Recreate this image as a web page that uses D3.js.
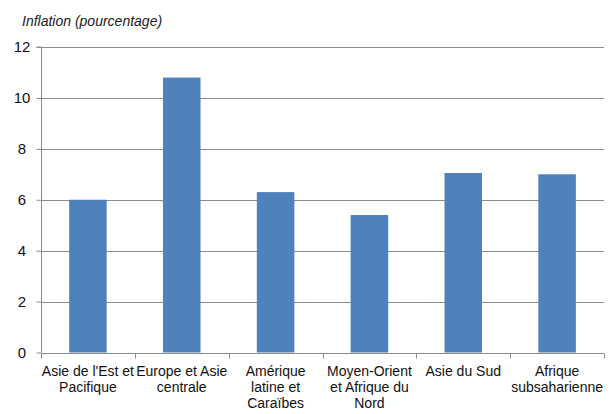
<!DOCTYPE html>
<html>
<head>
<meta charset="utf-8">
<script src="https://cdn.jsdelivr.net/npm/d3@7"></script>
<style>
  html, body { margin: 0; padding: 0; background: #fff; }
  svg { display: block; font-family: "Liberation Sans", Arial, sans-serif; }
</style>
</head>
<body>
<svg id="chart" width="613" height="414"></svg>
<script>
// Regional inflation, percent
const regions = [
  ["Asie de l'Est et", "Pacifique"],
  ["Europe et Asie", "centrale"],
  ["Amérique", "latine et", "Caraïbes"],
  ["Moyen-Orient", "et Afrique du", "Nord"],
  ["Asie du Sud"],
  ["Afrique", "subsaharienne"]
];
const inflation = [6.0, 10.8, 6.3, 5.4, 7.05, 7.0];
const yTicks = [0, 2, 4, 6, 8, 10, 12];
const yTitle = "Inflation (pourcentage)";

const svg = d3.select("#chart");
const margin = { left: 41, right: 9, top: 47, bottom: 61.5 };
const W = 613, H = 414;

const x = d3.scaleBand()
  .domain(d3.range(regions.length))
  .range([margin.left, W - margin.right])
  .paddingInner(0.6)
  .paddingOuter(0.3);

const y = d3.scaleLinear()
  .domain([0, 12])
  .range([H - margin.bottom, margin.top]);

const gridColor = "#8c8c8c";

// horizontal gridlines
svg.append("g")
  .selectAll("line")
  .data(yTicks.filter(d => d > 0))
  .join("line")
  .attr("x1", margin.left).attr("x2", W - margin.right)
  .attr("y1", d => Math.round(y(d)) + 0.5).attr("y2", d => Math.round(y(d)) + 0.5)
  .attr("stroke", gridColor).attr("stroke-width", 1);

// bars
svg.append("g")
  .selectAll("rect")
  .data(inflation)
  .join("rect")
  .attr("x", (d, i) => x(i))
  .attr("width", x.bandwidth())
  .attr("y", d => y(d))
  .attr("height", d => y(0) - y(d))
  .attr("fill", "#4f81bd");

// y axis
const yAxis = svg.append("g")
  .attr("transform", `translate(${margin.left + 0.5},0)`)
  .call(d3.axisLeft(y).tickValues(yTicks).tickSize(5).tickPadding(4).tickFormat(d3.format("d")));
yAxis.select(".domain").attr("stroke", gridColor).attr("d", `M-5,${y(12)}H0V${y(0)}`);
yAxis.selectAll(".tick line").attr("stroke", gridColor);
yAxis.selectAll(".tick text")
  .attr("fill", "#111").attr("font-size", 15)
  .attr("text-anchor", "middle")
  .attr("x", -19.5)
  .attr("font-family", "Liberation Sans, Arial, sans-serif");

// x axis baseline and category boundary ticks
const x0 = Math.round(y(0)) + 0.5;
const bounds = d3.range(regions.length + 1).map(i => margin.left + i * (W - margin.left - margin.right) / regions.length);
svg.append("line")
  .attr("x1", margin.left).attr("x2", W - margin.right)
  .attr("y1", x0).attr("y2", x0)
  .attr("stroke", gridColor);
svg.append("g")
  .selectAll("line")
  .data(bounds)
  .join("line")
  .attr("x1", d => Math.round(d) + 0.5).attr("x2", d => Math.round(d) + 0.5)
  .attr("y1", x0).attr("y2", x0 + 5)
  .attr("stroke", gridColor);

// category labels
svg.append("g")
  .selectAll("text")
  .data(regions)
  .join("text")
  .attr("text-anchor", "middle")
  .attr("font-size", 14)
  .attr("fill", "#111")
  .attr("transform", (d, i) => `translate(${x(i) + x.bandwidth() / 2},${x0 + 22})`)
  .selectAll("tspan")
  .data(d => d)
  .join("tspan")
  .attr("x", 0)
  .attr("y", (d, j) => j * 16)
  .text(d => d);

// axis title
svg.append("text")
  .attr("x", 22).attr("y", 26)
  .attr("font-size", 14)
  .attr("font-style", "italic")
  .attr("fill", "#222")
  .text(yTitle);
</script>
</body>
</html>
